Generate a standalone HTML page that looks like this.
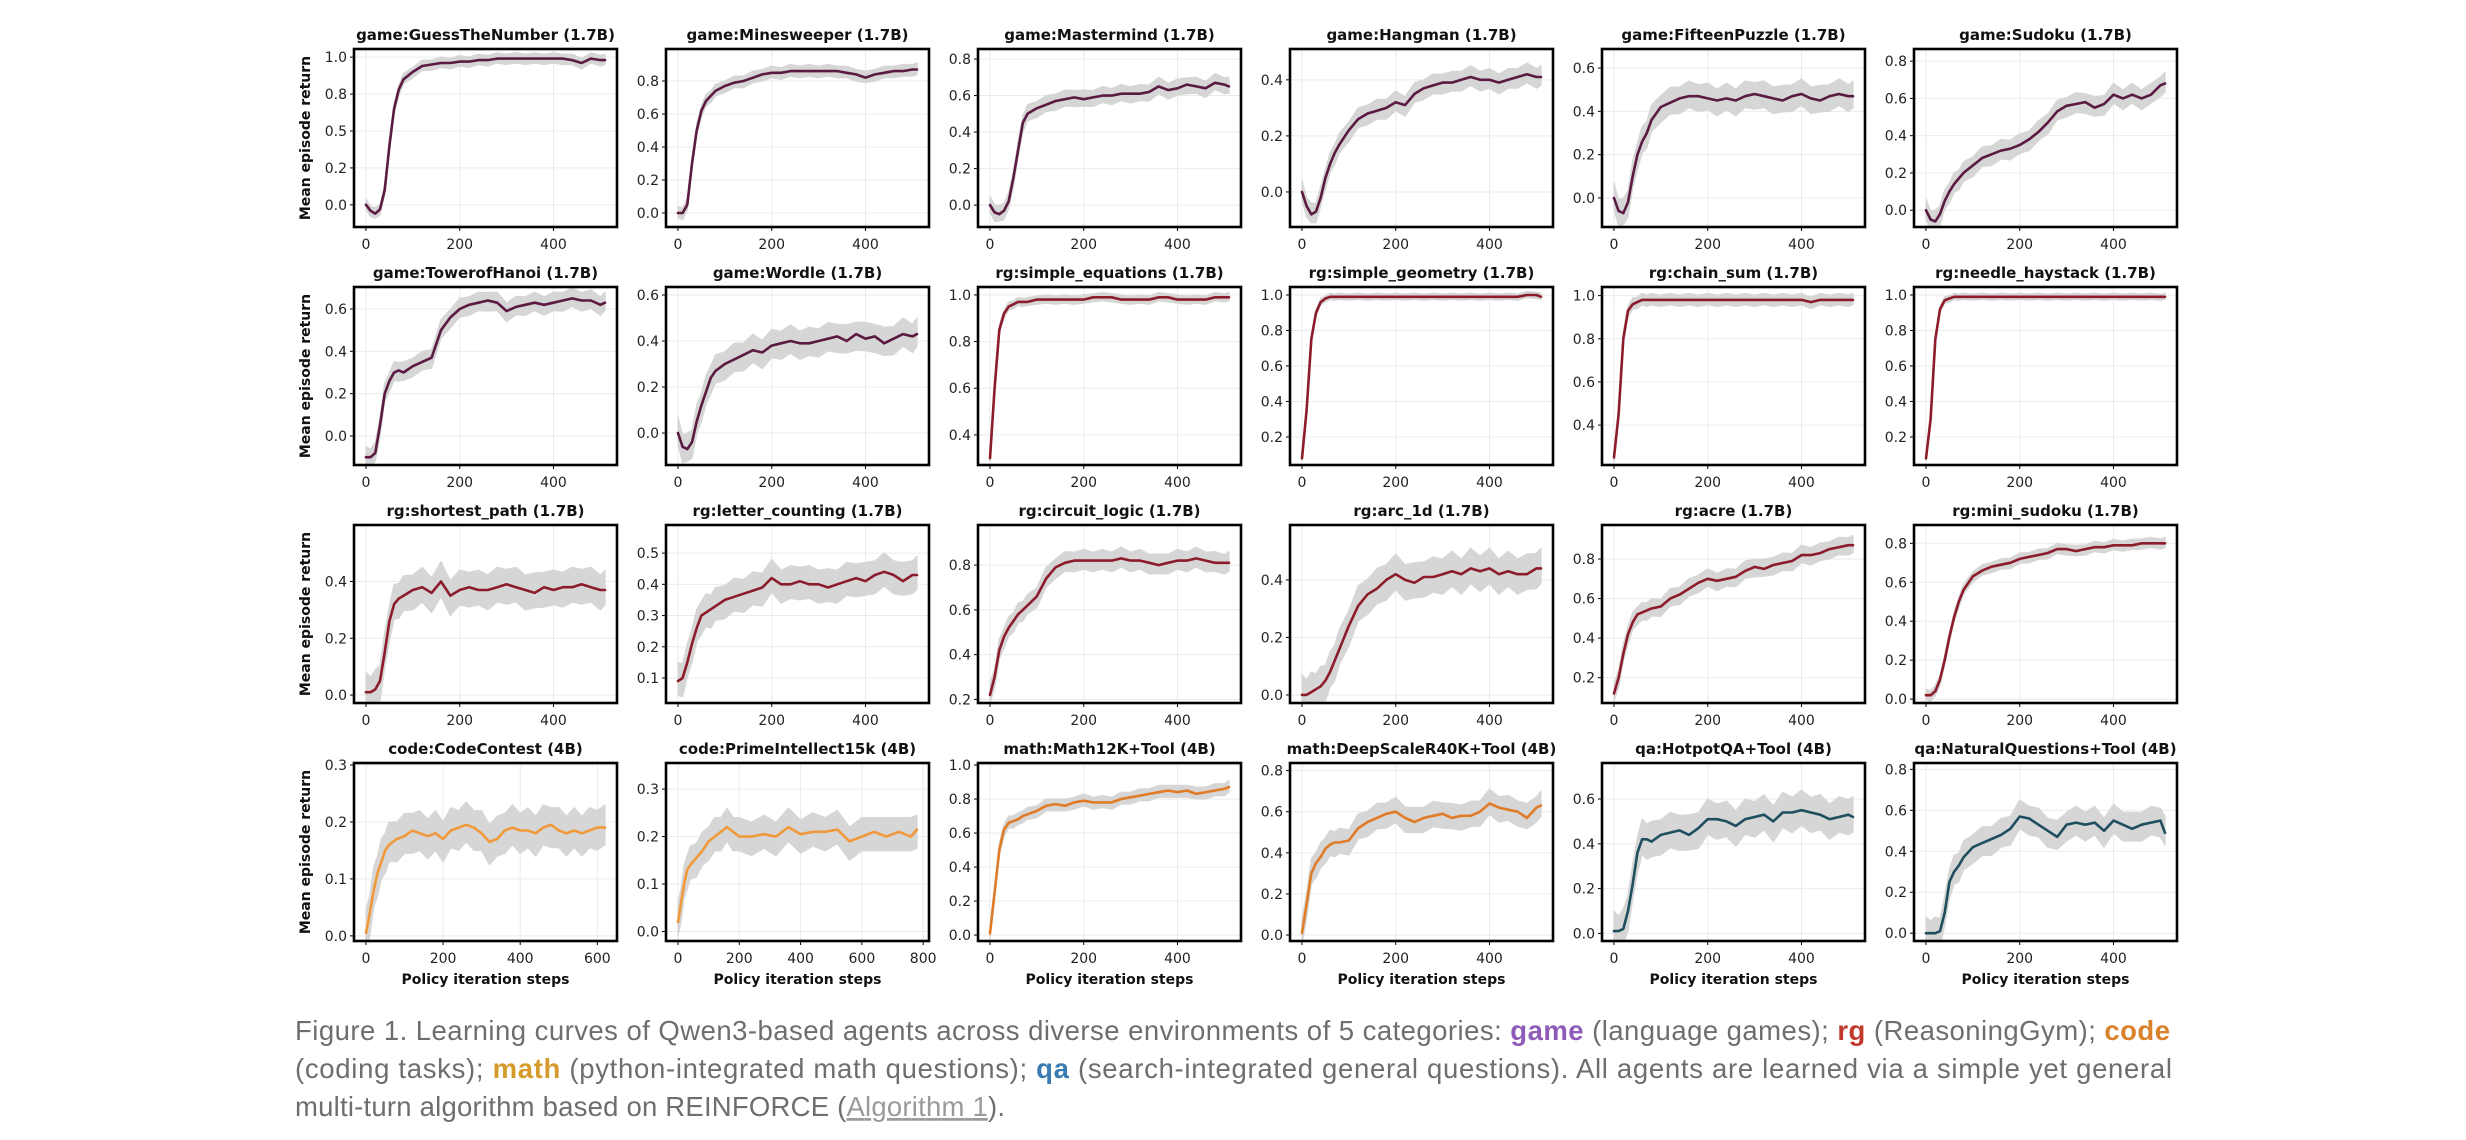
<!DOCTYPE html>
<html><head><meta charset="utf-8"><title>Learning curves</title>
<style>
html,body{margin:0;padding:0;background:#fff;}
svg{display:block;}
.tl{font-family:"DejaVu Sans","Liberation Sans",sans-serif;font-weight:bold;font-size:15px;fill:#111;}
.tk{font-family:"DejaVu Sans","Liberation Sans",sans-serif;font-size:14px;fill:#222;}
.ax{font-family:"DejaVu Sans","Liberation Sans",sans-serif;font-weight:bold;font-size:14px;fill:#111;}
.cap{font-family:"Liberation Sans",sans-serif;font-size:27.5px;fill:#6e6e6e;}
</style></head>
<body>
<svg id="fig" width="2466" height="1140" viewBox="0 0 2466 1140" xmlns="http://www.w3.org/2000/svg">
<rect x="0" y="0" width="2466" height="1140" fill="#fff"/>
<g id="panels"></g>
<g>
<text class="cap" x="295" y="1040" textLength="1875" lengthAdjust="spacing">Figure 1. Learning curves of Qwen3-based agents across diverse environments of 5 categories: <tspan font-weight="bold" fill="#8e5bb8">game</tspan> (language games); <tspan font-weight="bold" fill="#c0392b">rg</tspan> (ReasoningGym); <tspan font-weight="bold" fill="#d9822b">code</tspan></text>
<text class="cap" x="295" y="1078" textLength="1877" lengthAdjust="spacing">(coding tasks); <tspan font-weight="bold" fill="#d69a2c">math</tspan> (python-integrated math questions); <tspan font-weight="bold" fill="#3b7bb3">qa</tspan> (search-integrated general questions). All agents are learned via a simple yet general</text>
<text class="cap" x="295" y="1116" textLength="710" lengthAdjust="spacing">multi-turn algorithm based on REINFORCE (<tspan fill="#9a9a9a" text-decoration="underline">Algorithm 1</tspan>).</text>
</g>
</svg>
<script>
const stepsA = [0,10,20,30,40,50,60,70,80,100,120,140,160,180,200,220,240,260,280,300,320,340,360,380,400,420,440,460,480,500,510];
const stepsB = [0,10,20,30,40,50,60,80,100,120,140,160,180,200,220,240,260,280,300,320,340,360,380,400,420,440,460,480,500,520,540,560,580,600,620];
const stepsC = [0,10,20,30,40,60,80,100,120,140,160,180,200,240,280,320,360,400,440,480,520,560,600,640,680,720,760,780];

const titles = ["game:GuessTheNumber (1.7B)","game:Minesweeper (1.7B)","game:Mastermind (1.7B)","game:Hangman (1.7B)","game:FifteenPuzzle (1.7B)","game:Sudoku (1.7B)",
"game:TowerofHanoi (1.7B)","game:Wordle (1.7B)","rg:simple_equations (1.7B)","rg:simple_geometry (1.7B)","rg:chain_sum (1.7B)","rg:needle_haystack (1.7B)",
"rg:shortest_path (1.7B)","rg:letter_counting (1.7B)","rg:circuit_logic (1.7B)","rg:arc_1d (1.7B)","rg:acre (1.7B)","rg:mini_sudoku (1.7B)",
"code:CodeContest (4B)","code:PrimeIntellect15k (4B)","math:Math12K+Tool (4B)","math:DeepScaleR40K+Tool (4B)","qa:HotpotQA+Tool (4B)","qa:NaturalQuestions+Tool (4B)"];

const yLo = [-0.15,-0.085,-0.12,-0.125,-0.134,-0.09, -0.137,-0.139,0.271,0.042,0.215,0.042, -0.028,0.02,0.184,-0.028,0.072,-0.02, -0.009,-0.02,-0.035,-0.029,-0.034,-0.038];
const yHi = [1.055,0.994,0.855,0.51,0.688,0.865, 0.704,0.635,1.034,1.045,1.04,1.045, 0.599,0.59,0.979,0.591,0.972,0.894, 0.3035,0.355,1.012,0.837,0.761,0.831];

const yTicks = [[0,0.25,0.5,0.75,1],[0,0.2,0.4,0.6,0.8],[0,0.2,0.4,0.6,0.8],[0,0.2,0.4],[0,0.2,0.4,0.6],[0,0.2,0.4,0.6,0.8],
[0,0.2,0.4,0.6],[0,0.2,0.4,0.6],[0.4,0.6,0.8,1],[0.2,0.4,0.6,0.8,1],[0.4,0.6,0.8,1],[0.2,0.4,0.6,0.8,1],
[0,0.2,0.4],[0.1,0.2,0.3,0.4,0.5],[0.2,0.4,0.6,0.8],[0,0.2,0.4],[0.2,0.4,0.6,0.8],[0,0.2,0.4,0.6,0.8],
[0,0.1,0.2,0.3],[0,0.1,0.2,0.3],[0,0.2,0.4,0.6,0.8,1],[0,0.2,0.4,0.6,0.8],[0,0.2,0.4,0.6],[0,0.2,0.4,0.6,0.8]];
const yTickLabelsFirst = ["0.0","0.2","0.5","0.8","1.0"];

const xTicksA = [0,200,400];
const xTicksB = [0,200,400,600];
const xTicksC = [0,200,400,600,800];

const spread = [0.04,0.04,0.05,0.04,0.07,0.06, 0.05,0.07,0.02,0.02,0.03,0.02, 0.07,0.06,0.05,0.07,0.05,0.03, 0.04,0.04,0.04,0.07,0.09,0.08];

const vGuess = [0,-0.04,-0.06,-0.03,0.1,0.4,0.65,0.78,0.85,0.9,0.94,0.95,0.96,0.96,0.97,0.97,0.98,0.98,0.99,0.99,0.99,0.99,0.99,0.99,0.99,0.99,0.98,0.96,0.99,0.98,0.98];
const vMines = [0,0,0.05,0.3,0.5,0.62,0.68,0.71,0.74,0.77,0.79,0.8,0.82,0.84,0.85,0.85,0.86,0.86,0.86,0.86,0.86,0.86,0.85,0.84,0.82,0.84,0.85,0.86,0.86,0.87,0.87];
const vMaster = [0,-0.04,-0.05,-0.03,0.02,0.15,0.3,0.45,0.5,0.53,0.55,0.57,0.58,0.59,0.58,0.59,0.6,0.6,0.61,0.61,0.61,0.62,0.65,0.63,0.64,0.66,0.65,0.64,0.67,0.66,0.65];
const vHang = [0,-0.05,-0.08,-0.07,-0.02,0.05,0.1,0.14,0.17,0.22,0.26,0.28,0.29,0.3,0.32,0.31,0.35,0.37,0.38,0.39,0.39,0.4,0.41,0.4,0.4,0.39,0.4,0.41,0.42,0.41,0.41];
const vFifteen = [0,-0.06,-0.07,-0.02,0.1,0.2,0.26,0.3,0.36,0.42,0.44,0.46,0.47,0.47,0.46,0.45,0.46,0.45,0.47,0.48,0.47,0.46,0.45,0.47,0.48,0.46,0.45,0.47,0.48,0.47,0.47];
const vSudoku = [0,-0.05,-0.06,-0.02,0.05,0.1,0.14,0.17,0.2,0.24,0.28,0.3,0.32,0.33,0.35,0.38,0.42,0.47,0.53,0.56,0.57,0.58,0.55,0.57,0.62,0.6,0.62,0.6,0.62,0.67,0.68];
const vHanoi = [-0.1,-0.1,-0.08,0.05,0.2,0.26,0.3,0.31,0.3,0.33,0.35,0.37,0.5,0.56,0.6,0.62,0.63,0.64,0.63,0.59,0.61,0.62,0.63,0.62,0.63,0.64,0.65,0.64,0.64,0.62,0.63];
const vWordle = [0,-0.06,-0.07,-0.04,0.05,0.12,0.18,0.24,0.27,0.3,0.32,0.34,0.36,0.35,0.38,0.39,0.4,0.39,0.39,0.4,0.41,0.42,0.4,0.43,0.41,0.42,0.39,0.41,0.43,0.42,0.43];
const vEquations = [0.3,0.6,0.85,0.92,0.95,0.96,0.97,0.97,0.97,0.98,0.98,0.98,0.98,0.98,0.98,0.99,0.99,0.99,0.98,0.98,0.98,0.98,0.99,0.99,0.98,0.98,0.98,0.98,0.99,0.99,0.99];
const vGeometry = [0.08,0.35,0.75,0.9,0.96,0.98,0.99,0.99,0.99,0.99,0.99,0.99,0.99,0.99,0.99,0.99,0.99,0.99,0.99,0.99,0.99,0.99,0.99,0.99,0.99,0.99,0.99,0.99,1.0,1.0,0.99];
const vChain = [0.25,0.45,0.8,0.93,0.96,0.97,0.98,0.98,0.98,0.98,0.98,0.98,0.98,0.98,0.98,0.98,0.98,0.98,0.98,0.98,0.98,0.98,0.98,0.98,0.98,0.97,0.98,0.98,0.98,0.98,0.98];
const vNeedle = [0.08,0.3,0.75,0.92,0.97,0.98,0.99,0.99,0.99,0.99,0.99,0.99,0.99,0.99,0.99,0.99,0.99,0.99,0.99,0.99,0.99,0.99,0.99,0.99,0.99,0.99,0.99,0.99,0.99,0.99,0.99];
const vShortest = [0.01,0.01,0.02,0.05,0.15,0.26,0.32,0.34,0.35,0.37,0.38,0.36,0.4,0.35,0.37,0.38,0.37,0.37,0.38,0.39,0.38,0.37,0.36,0.38,0.37,0.38,0.38,0.39,0.38,0.37,0.37];
const vLetter = [0.09,0.1,0.15,0.21,0.26,0.3,0.31,0.32,0.33,0.35,0.36,0.37,0.38,0.39,0.42,0.4,0.4,0.41,0.4,0.4,0.39,0.4,0.41,0.42,0.41,0.43,0.44,0.43,0.41,0.43,0.43];
const vCircuit = [0.22,0.3,0.42,0.48,0.52,0.55,0.58,0.6,0.62,0.66,0.74,0.79,0.81,0.82,0.82,0.82,0.82,0.82,0.83,0.82,0.82,0.81,0.8,0.81,0.82,0.82,0.83,0.82,0.81,0.81,0.81];
const vArc = [0,0,0.01,0.02,0.03,0.05,0.08,0.12,0.16,0.24,0.31,0.35,0.37,0.4,0.42,0.4,0.39,0.41,0.41,0.42,0.43,0.42,0.44,0.43,0.44,0.42,0.43,0.42,0.42,0.44,0.44];
const vAcre = [0.12,0.2,0.32,0.42,0.48,0.52,0.53,0.54,0.55,0.56,0.6,0.62,0.65,0.68,0.7,0.69,0.7,0.71,0.74,0.76,0.75,0.77,0.78,0.79,0.82,0.82,0.83,0.85,0.86,0.87,0.87];
const vMiniSudoku = [0.02,0.02,0.04,0.1,0.2,0.32,0.42,0.5,0.56,0.63,0.66,0.68,0.69,0.7,0.72,0.73,0.74,0.75,0.77,0.77,0.76,0.77,0.78,0.78,0.79,0.79,0.79,0.8,0.8,0.8,0.8];
const vCodeContest = [0.005,0.04,0.08,0.11,0.13,0.15,0.16,0.17,0.175,0.185,0.18,0.175,0.18,0.17,0.185,0.19,0.195,0.19,0.18,0.165,0.17,0.185,0.19,0.185,0.185,0.18,0.19,0.195,0.185,0.18,0.185,0.18,0.185,0.19,0.19];
const vPrime = [0.02,0.06,0.1,0.13,0.14,0.155,0.17,0.19,0.2,0.21,0.22,0.21,0.2,0.2,0.205,0.2,0.22,0.205,0.21,0.21,0.215,0.19,0.2,0.21,0.2,0.21,0.2,0.215];
const vMath12k = [0.01,0.25,0.5,0.62,0.66,0.67,0.68,0.7,0.71,0.73,0.76,0.77,0.76,0.78,0.79,0.78,0.78,0.78,0.8,0.81,0.82,0.83,0.84,0.85,0.84,0.85,0.83,0.84,0.85,0.86,0.87];
const vDeepScale = [0.01,0.15,0.3,0.35,0.38,0.42,0.44,0.45,0.45,0.46,0.52,0.55,0.57,0.59,0.6,0.57,0.55,0.57,0.58,0.59,0.57,0.58,0.58,0.6,0.64,0.62,0.61,0.6,0.57,0.62,0.63];
const vHotpot = [0.01,0.01,0.02,0.1,0.22,0.36,0.42,0.42,0.41,0.44,0.45,0.46,0.44,0.47,0.51,0.51,0.5,0.48,0.51,0.52,0.53,0.5,0.54,0.54,0.55,0.54,0.53,0.51,0.52,0.53,0.52];
const vNQ = [0,0,0,0.01,0.1,0.25,0.3,0.33,0.37,0.42,0.44,0.46,0.48,0.51,0.57,0.56,0.53,0.5,0.47,0.53,0.54,0.53,0.54,0.5,0.55,0.53,0.51,0.53,0.54,0.55,0.49];

const seriesList = [vGuess,vMines,vMaster,vHang,vFifteen,vSudoku,vHanoi,vWordle,vEquations,vGeometry,vChain,vNeedle,
vShortest,vLetter,vCircuit,vArc,vAcre,vMiniSudoku,vCodeContest,vPrime,vMath12k,vDeepScale,vHotpot,vNQ];

const NS = "http://www.w3.org/2000/svg";
const root = document.getElementById("panels");
const colLeft = [354,666,978,1290,1602,1914];
const rowTop = [49,287,525,763];
const W = 263, H = 178;

function mk(tag, attrs, parent){
  const e = document.createElementNS(NS, tag);
  for (const k in attrs) e.setAttribute(k, attrs[k]);
  parent.appendChild(e);
  return e;
}
function colorFor(i){
  if (i < 8) return "#5a1a42";
  if (i < 18) return "#8c1c2c";
  if (i < 20) return "#f0993a";
  if (i < 22) return "#e07b28";
  return "#1f4f5f";
}

for (let i = 0; i < 24; i++){
  const r = Math.floor(i/6), c = i % 6;
  const x0 = colLeft[c], y0 = rowTop[r];
  const steps = i === 18 ? stepsB : (i === 19 ? stepsC : stepsA);
  const xTicks = i === 18 ? xTicksB : (i === 19 ? xTicksC : xTicksA);
  const xmax = steps[steps.length-1];
  const xlo = -0.05*xmax, xhi = 1.05*xmax;
  const sx = v => x0 + (v - xlo)/(xhi - xlo)*W;
  const sy = v => y0 + H - (v - yLo[i])/(yHi[i] - yLo[i])*H;
  const vals = seriesList[i];

  const g = mk("g", {}, root);
  
  

  const clipId = "clip" + i;
  const cp = mk("clipPath", {id: clipId}, g);
  mk("rect", {x: x0, y: y0, width: W, height: H}, cp);

  const grid = mk("g", {stroke: "#ebebeb", "stroke-width": 1}, g);
  
  
  yTicks[i].forEach(t => mk("line", {x1: x0, x2: x0+W, y1: sy(t), y2: sy(t)}, grid));
  xTicks.forEach(t => mk("line", {x1: sx(t), x2: sx(t), y1: y0, y2: y0+H}, grid));

  const plot = mk("g", {"clip-path": "url(#" + clipId + ")"}, g);
  let up = "", dn = "";
  for (let k = 0; k < steps.length; k++){
    const s = spread[i] * (k % 2 === 0 ? 1 : 0.75);
    up += (k ? " L" : "M") + sx(steps[k]).toFixed(1) + "," + sy(vals[k] + s).toFixed(1);
  }
  for (let k = steps.length-1; k >= 0; k--){
    const s = spread[i] * (k % 2 === 0 ? 0.75 : 1);
    dn += " L" + sx(steps[k]).toFixed(1) + "," + sy(vals[k] - s).toFixed(1);
  }
  const band = mk("path", {d: up + dn + " Z", fill: "#d6d6d6", stroke: "#d6d6d6", "stroke-width": 1.2, "stroke-linejoin": "round"}, plot);
  
  

  let d = "";
  for (let k = 0; k < steps.length; k++) d += (k ? " L" : "M") + sx(steps[k]).toFixed(1) + "," + sy(vals[k]).toFixed(1);
  const line = mk("path", {d: d, fill: "none", stroke: colorFor(i), "stroke-width": 2.6, "stroke-linejoin": "round", "stroke-linecap": "round"}, plot);
  
  

  const fr = mk("rect", {x: x0, y: y0, width: W, height: H, fill: "none", stroke: "#000", "stroke-width": 2.6}, g);
  
  

  yTicks[i].forEach((t, j) => {
    mk("line", {x1: x0-4, x2: x0, y1: sy(t), y2: sy(t), stroke: "#000", "stroke-width": 1}, g);
    const tx = mk("text", {x: x0-7, y: sy(t)+5, "text-anchor": "end", class: "tk"}, g);
    tx.textContent = i === 0 ? yTickLabelsFirst[j] : t.toFixed(1);
    
    
  });
  xTicks.forEach(t => {
    mk("line", {x1: sx(t), x2: sx(t), y1: y0+H, y2: y0+H+4, stroke: "#000", "stroke-width": 1}, g);
    const tx = mk("text", {x: sx(t), y: y0+H+22, "text-anchor": "middle", class: "tk"}, g);
    tx.textContent = String(t);
    
    
  });
  const tt = mk("text", {x: x0 + W/2, y: y0 - 9, "text-anchor": "middle", class: "tl"}, g);
  tt.textContent = titles[i];
  
  

  if (c === 0){
    const yl = mk("text", {x: 0, y: 0, "text-anchor": "middle", class: "ax", transform: "translate(" + (x0-44) + "," + (y0+H/2) + ") rotate(-90)"}, g);
    yl.textContent = "Mean episode return";
    
    
  }
  if (r === 3){
    const xl = mk("text", {x: x0 + W/2, y: y0+H+43, "text-anchor": "middle", class: "ax"}, g);
    xl.textContent = "Policy iteration steps";
    
    
  }
}
</script>
</body></html>
